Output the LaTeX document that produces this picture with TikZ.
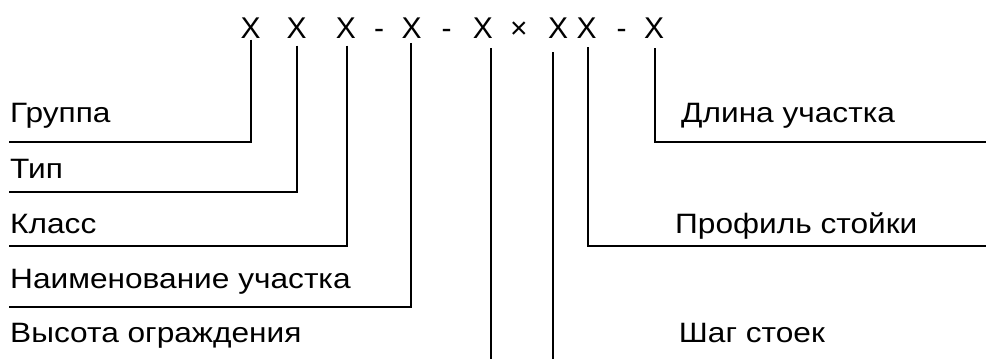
\documentclass[tikz,border=0pt]{standalone}
\usepackage{fontspec}
\setmainfont{Liberation Sans}
\newfontfamily\labfont[FakeStretch=1.13]{Liberation Sans}
\begin{document}
\begin{tikzpicture}[x=1pt,y=-1pt,
  lab/.style={anchor=base west,inner sep=0pt,font=\labfont\fontsize{28}{31}\selectfont},
  code/.style={anchor=base,inner sep=0pt,font=\fontsize{30}{33}\selectfont},
  conn/.style={line width=1.8pt}]
\useasboundingbox (0,0) rectangle (986,359);
% code line
\node[code] (x1) at (250.7,38.3) {X};
\node[code] (x2) at (296.7,38.3) {X};
\node[code] (x3) at (346,38.3) {X};
\node[code] (d1) at (379,38.3) {-};
\node[code] (x4) at (411.7,38.3) {X};
\node[code] (d2) at (446.7,38.3) {-};
\node[code] (x5) at (483,38.3) {X};
\node[code] (tm) at (519,38.3) {×};
\node[code] (x6) at (558,38.3) {X};
\node[code] (x7) at (586.7,38.3) {X};
\node[code] (d3) at (621.7,38.3) {-};
\node[code] (x8) at (654,38.3) {X};
% labels
\node[lab] (l1) at (10,122) {Группа};
\node[lab] (l2) at (10,178.3) {Тип};
\node[lab] (l3) at (10,233.3) {Класс};
\node[lab] (l4) at (10,288) {Наименование участка};
\node[lab] (l5) at (10,342.7) {Высота ограждения};
\node[lab] (r1) at (681,122.7) {Длина участка};
\node[lab] (r2) at (675,233.3) {Профиль стойки};
\node[lab] (r3) at (678.7,342.7) {Шаг стоек};
% free ends
\coordinate (e1) at (9,141.7);
\coordinate (e2) at (9,191.7);
\coordinate (e3) at (9,245.7);
\coordinate (e4) at (9,306.7);
\coordinate (e5) at (490.7,359);
\coordinate (e6) at (553.3,359);
\coordinate (e7) at (986,246);
\coordinate (e8) at (986,141.7);
% connectors
\draw[conn] ([yshift=-1pt]x1.south) |- (e1);
\draw[conn] ([yshift=-7pt]x2.south) |- (e2);
\draw[conn] ([yshift=-7pt,xshift=0.7pt]x3.south) |- (e3);
\draw[conn] ([yshift=-4.4pt,xshift=-0.7pt]x4.south) |- (e4);
\draw[conn] ([yshift=-9.7pt,xshift=7.7pt]x5.south) -- (e5);
\draw[conn] ([yshift=-13.7pt,xshift=-4.7pt]x6.south) -- (e6);
\draw[conn] ([yshift=-8.7pt,xshift=1.6pt]x7.south) |- (e7);
\draw[conn] ([yshift=-9.7pt,xshift=1pt]x8.south) |- (e8);
\end{tikzpicture}
\end{document}
